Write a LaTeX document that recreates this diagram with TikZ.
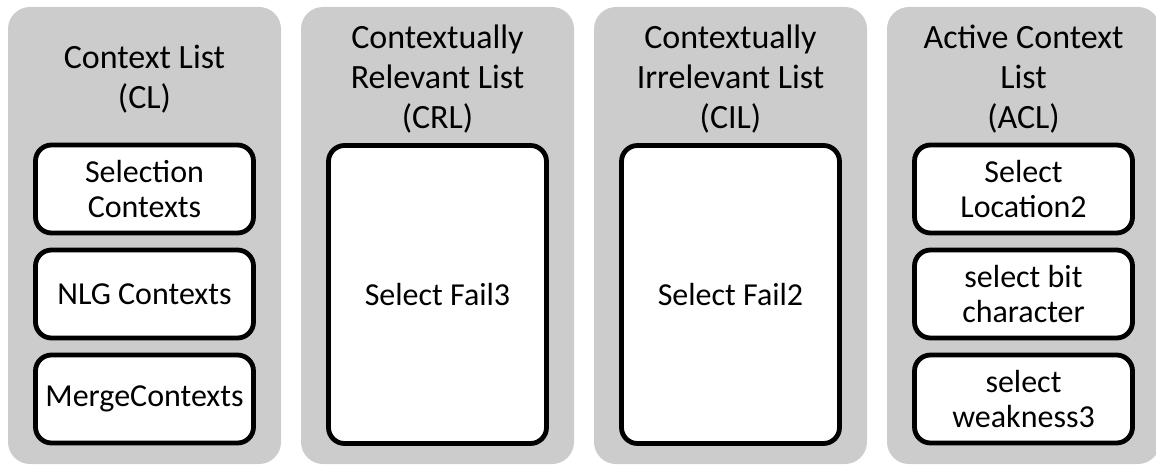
\documentclass[tikz,border=0pt]{standalone}
\usepackage{fontspec}
\setmainfont{Carlito}
\usetikzlibrary{shapes}
\definecolor{panelgray}{RGB}{204,204,204}
\tikzstyle{pnl}=[rectangle,rounded corners=11pt,fill=panelgray,minimum width=136.5pt,minimum height=228.5pt,inner sep=0pt]
\tikzstyle{ttl}=[align=center,inner sep=0pt,font=\fontsize{17}{20}\selectfont]
\tikzstyle{itm}=[rectangle,rounded corners=8pt,draw=black,line width=2.4pt,fill=white,minimum width=109pt,minimum height=44pt,align=center,inner sep=1pt,font=\fontsize{16}{17.5}\selectfont]

\begin{document}
\begin{tikzpicture}[x=0.5pt,y=-0.5pt]
\useasboundingbox (0,0) rectangle (1156,465);
% panels
\node[pnl] (cl) at (144.5,235.5) {};
\node[pnl] (crl) at (437.5,235.5) {};
\node[pnl] (cil) at (730.5,235.5) {};
\node[pnl] (acl) at (1023.5,235.5) {};
% titles
\node[ttl] (clt) at (144.5,79) {Context List\\(CL)};
\node[ttl] (crlt) at (437.5,79) {Contextually\\Relevant List\\(CRL)};
\node[ttl] (cilt) at (730.5,79) {Contextually\\Irrelevant List\\(CIL)};
\node[ttl] (aclt) at (1023.5,79) {Active Context\\List\\(ACL)};
% list items
\node[itm] (sel) at (144.5,189) {Selection\\Contexts};
\node[itm] (nlg) at (144.5,294) {NLG Contexts};
\node[itm] (mrg) at (144.5,399) {MergeContexts};
\node[itm,minimum height=149pt] (fail3) at (437.5,294.5) {Select Fail3};
\node[itm,minimum height=149pt] (fail2) at (730.5,294.5) {Select Fail2};
\node[itm] (loc2) at (1023.5,189) {Select\\Location2};
\node[itm] (bit) at (1023.5,294) {select bit\\character};
\node[itm] (weak3) at (1023.5,399) {select\\weakness3};
\end{tikzpicture}
\end{document}
